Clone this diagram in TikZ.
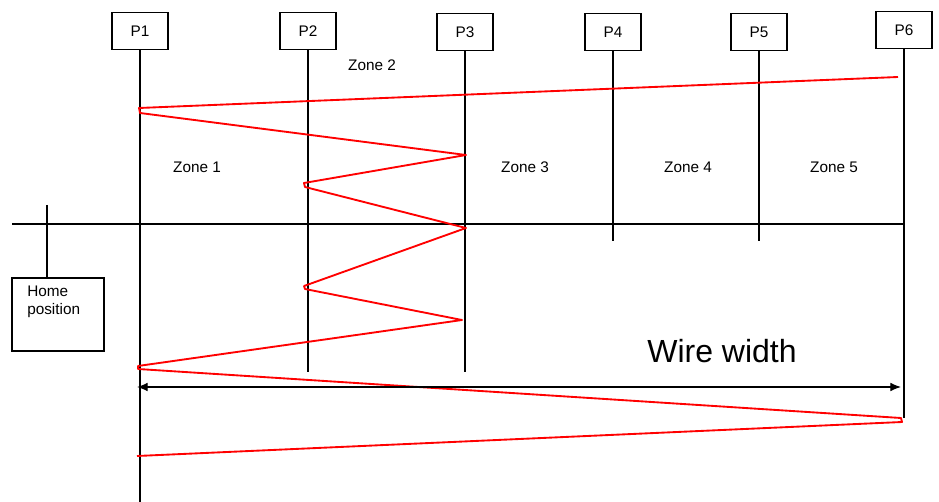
\documentclass[tikz,border=0pt]{standalone}
\usepackage{fontspec}
\setmainfont{Liberation Sans}
\usetikzlibrary{arrows.meta,positioning}

\begin{document}
\begin{tikzpicture}[x=0.75pt,y=-0.75pt,
    pos box/.style={draw,line width=1.4pt,minimum width=42pt,minimum height=27.75pt,inner sep=0pt},
    guide/.style={line width=1.4pt},
    wire/.style={red,line width=1.4pt,line join=round},
    zone/.style={inner sep=0pt},
    font=\fontsize{11.5}{13.5}\selectfont]

  \useasboundingbox (0,0) rectangle (939,502);

  % Position boxes with their guide lines
  \foreach \n/\x/\y/\e in {1/140/31/502, 2/308/31/372, 3/465/32/372,
                           4/613/32/241, 5/759/32/241, 6/904/30/418}{
    \node[pos box] (P\n) at (\x,\y) {P\n};
    \coordinate (E\n) at (\x,\e);
    \draw[guide] (P\n.south) -- (E\n);
  }

  % Home position
  \node[pos box,minimum width=69pt,minimum height=54.75pt,anchor=north west] (home) at (11,277) {};
  \node[align=left,anchor=north west,inner sep=0pt] (homelbl) at (27,286) {Home\\position};
  \coordinate (hm) at (47,205);
  \draw[guide] (hm) -- (hm |- home.north);

  % Axis
  \coordinate (ax-l) at (12,224);
  \coordinate (ax-r) at (905,224);
  \draw[line width=2.2pt] (ax-l) -- (ax-r);

  % Zone labels
  \node[zone] (z1) at (197,167) {Zone 1};
  \node[zone] (z2) at (372,65) {Zone 2};
  \node[zone] (z3) at (525,167) {Zone 3};
  \node[zone] (z4) at (688,167) {Zone 4};
  \node[zone] (z5) at (834,167) {Zone 5};

  % Wire path
  \draw[wire] (898,77) -- (139,108) -- (140,113) -- (466,155) -- (304,183)
    -- (305,187) -- (466,228) -- (304,286) -- (305,289) -- (462,320)
    -- (138,366) -- (138,369) -- (901,418) -- (902,422) -- (137,456);

  % Wire width
  \coordinate (ww-l) at (137,387);
  \coordinate (ww-r) at (901,387);
  \draw[{Latex[length=8pt,width=6.5pt]}-{Latex[length=8pt,width=6.5pt]},line width=0.8pt] (ww-l) -- (ww-r);
  \node[font=\fontsize{24}{28}\selectfont] (wwlbl) at (722,351) {Wire width};
\end{tikzpicture}
\end{document}
